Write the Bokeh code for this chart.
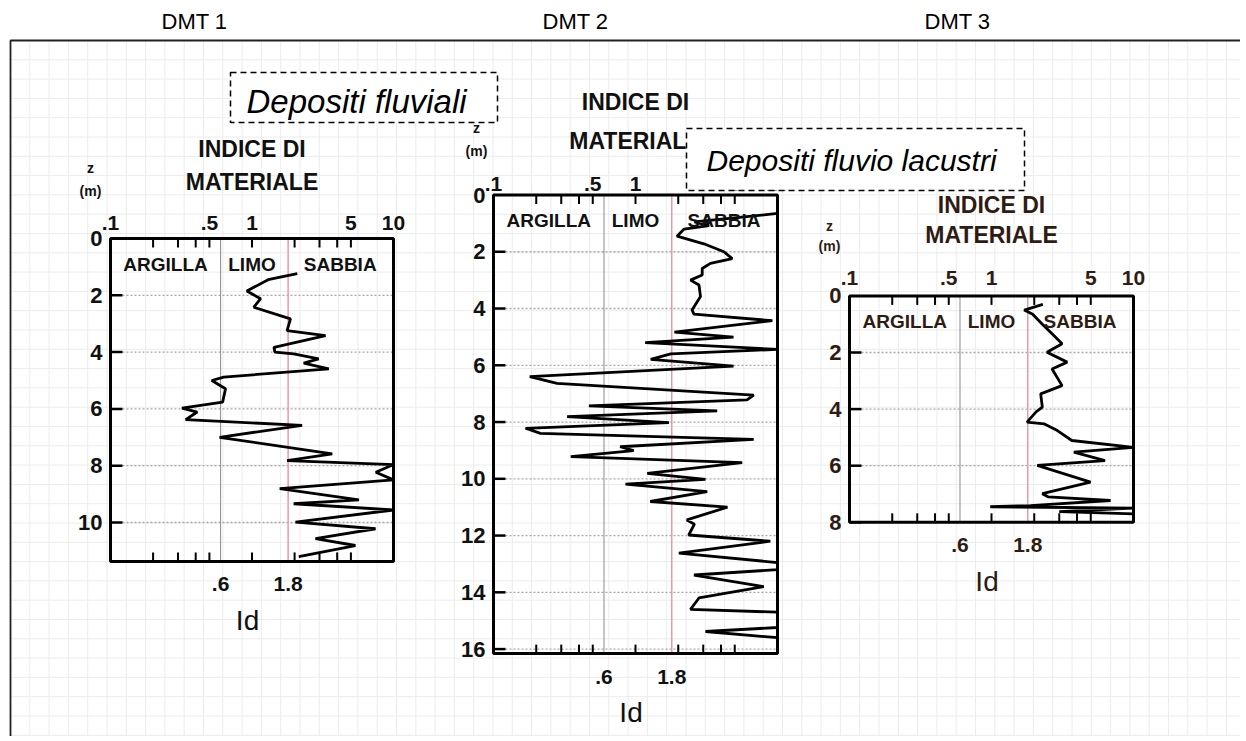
import numpy as np
from bokeh.plotting import figure
from bokeh.models import Range1d, LogScale
from bokeh.core.properties import value
from bokeh.embed import file_html
from bokeh.resources import INLINE

# ---------------- data ----------------
panel_titles = ["DMT 1", "DMT 2", "DMT 3"]
deposit_labels = ["Depositi fluviali", "Depositi fluvio lacustri"]
axis_title = ["INDICE DI", "MATERIALE"]
depth_label = ["z", "(m)"]
id_label = "Id"

dmt1_z = [1.24, 1.45, 1.85, 2.12, 2.42, 2.83, 3.24, 3.42, 3.83, 4.00, 4.06, 4.24, 4.39, 4.59,
          4.88, 5.00, 5.29, 5.76, 5.97, 6.11, 6.38, 6.58, 7.00, 7.58, 7.82, 7.96, 8.23, 8.50,
          8.81, 9.20, 9.34, 9.56, 9.99, 10.22, 10.57, 10.81, 11.20]
dmt1_id = [2.09, 1.30, 0.92, 1.15, 1.03, 1.87, 1.77, 3.31, 1.43, 1.45, 1.97, 2.96, 2.32, 3.49,
           0.63, 0.52, 0.65, 0.62, 0.32, 0.41, 0.34, 2.26, 0.59, 3.69, 1.77, 10.0, 7.5, 10.0,
           1.57, 5.7, 1.97, 10.0, 2.03, 7.47, 2.81, 5.38, 2.14]

dmt2_z = [0.65, 0.95, 1.08, 1.20, 1.45, 1.72, 2.00, 2.24, 2.41, 2.59, 2.82, 3.00, 3.17, 3.58,
          4.05, 4.20, 4.43, 4.83, 5.01, 5.20, 5.44, 5.60, 5.79, 6.03, 6.40, 6.64, 7.05, 7.22,
          7.43, 7.61, 7.81, 8.02, 8.22, 8.40, 8.61, 8.87, 9.01, 9.22, 9.43, 9.81, 10.02, 10.19,
          10.45, 10.80, 11.00, 11.45, 11.60, 11.98, 12.20, 12.62, 12.95, 13.20, 13.39, 13.80,
          14.20, 14.60, 14.70, 15.24, 15.38, 15.60]
dmt2_id = [10.0, 2.6, 3.3, 2.2, 1.96, 3.03, 4.19, 4.80, 3.37, 2.95, 2.95, 2.44, 2.80, 2.87,
           2.50, 2.58, 9.2, 1.88, 4.9, 1.17, 10.0, 1.77, 1.28, 4.9, 0.18, 0.28, 6.8, 6.1,
           0.47, 3.76, 0.33, 1.72, 0.168, 0.214, 6.8, 0.78, 0.97, 0.35, 5.64, 1.21, 3.11, 0.85,
           3.2, 1.27, 4.44, 2.3, 2.6, 2.37, 8.9, 2.02, 10.0, 10.0, 2.58, 8.0,
           2.8, 2.44, 10.0, 10.0, 3.11, 10.0]

dmt3_z = [0.30, 0.50, 0.65, 1.00, 1.34, 1.69, 1.99, 2.34, 2.58, 3.17, 3.46, 3.93, 4.10, 4.46,
          4.52, 4.76, 5.11, 5.35, 5.52, 5.82, 5.99, 6.58, 6.99, 7.10, 7.23, 7.41, 7.45, 7.50,
          7.62, 7.70]
dmt3_id = [2.3, 1.7, 1.95, 2.28, 2.67, 3.14, 2.46, 3.41, 2.67, 3.14, 2.22, 2.28, 2.06, 1.78,
           2.34, 2.91, 3.68, 10.0, 3.8, 6.3, 2.1, 4.98, 2.28, 2.5, 6.9, 1.88, 0.98, 10.0,
           3.0, 10.0]

id_tick_values = [0.1, 0.5, 1, 5, 10]
id_tick_labels = [".1", ".5", "1", "5", "10"]
id_minor_ticks = [0.2, 0.3, 0.4, 0.5, 1, 2, 3, 4, 5]
id_bounds = [0.6, 1.8]
id_bound_labels = [".6", "1.8"]
soil_classes = ["ARGILLA", "LIMO", "SABBIA"]
soil_class_id = [0.245, 1.0, 4.2]
depth_ticks = [[0, 2, 4, 6, 8, 10],
               [0, 2, 4, 6, 8, 10, 12, 14, 16],
               [0, 2, 4, 6, 8]]
depth_max = [11.37, 16.16, 8.0]
series_z = [dmt1_z, dmt2_z, dmt3_z]
series_id = [dmt1_id, dmt2_id, dmt3_id]

# ---------------- layout (pixels of the page) ----------------
X0, Y0, W, H = 0, 0, 1240, 736
panels = [
    dict(L=110, R=393, top=238, ppm=28.4, title_y=(148, 181), zx=90, zy=(167, 190),
         toplab=16, color="#111111"),
    dict(L=493, R=777, top=194.5, ppm=28.38, title_y=(101, 140), zx=476, zy=(127, 150),
         toplab=11, color="#111111"),
    dict(L=849, R=1133, top=295.4, ppm=28.3, title_y=(204, 234), zx=829, zy=(225, 245),
         toplab=18, color="#2e1c12"),
]
FONT = value("Liberation Sans")

p = figure(width=W, height=H, x_range=Range1d(X0, X0 + W), y_range=Range1d(Y0 + H, Y0),
           x_axis_type=None, y_axis_type=None, output_backend="svg",
           toolbar_location=None, min_border=0, outline_line_color=None)
p.background_fill_color = "white"

# page grid paper
step = 19.3
gx = np.arange(10 + step, X0 + W, step)
gy = np.arange(40 + step, Y0 + H, step)
p.segment(x0=gx, y0=[40] * len(gx), x1=gx, y1=[Y0 + H] * len(gx), line_color="#ececec", line_width=1)
p.segment(x0=[10] * len(gy), y0=gy, x1=[X0 + W] * len(gy), y1=gy, line_color="#ececec", line_width=1)
# outer frame
p.line([10, 10, X0 + W], [Y0 + H, 40, 40], line_color="#222222", line_width=1.8)

xr, xs, yr = {}, {}, {}
for k, g in enumerate(panels):
    dec = (g["R"] - g["L"]) / 2.0
    xr[f"x{k}"] = Range1d(10 ** (-1 - (g["L"] - X0) / dec), 10 ** (1 + (X0 + W - g["R"]) / dec))
    xs[f"x{k}"] = LogScale()
    yr[f"y{k}"] = Range1d((Y0 + H - g["top"]) / g["ppm"], (Y0 - g["top"]) / g["ppm"])
p.extra_x_ranges = xr
p.extra_x_scales = xs
p.extra_y_ranges = yr

for k, g in enumerate(panels):
    xn, yn = f"x{k}", f"y{k}"
    dec = (g["R"] - g["L"]) / 2.0
    zmax = depth_max[k]
    col = g["color"]
    ticks = depth_ticks[k]
    inner = [t for t in ticks if 0 < t]
    bottom_px = g["top"] + zmax * g["ppm"]
    # dotted depth grid
    p.segment(x0=[0.1] * len(inner), y0=inner, x1=[10] * len(inner), y1=inner,
              x_range_name=xn, y_range_name=yn, line_color="#a8a8a8", line_width=1.3,
              line_dash="2 2")
    # boundary lines
    p.segment(x0=[id_bounds[0]], y0=[0], x1=[id_bounds[0]], y1=[zmax], x_range_name=xn,
              y_range_name=yn, line_color="#8a8a8a", line_width=1)
    p.segment(x0=[id_bounds[1]], y0=[0], x1=[id_bounds[1]], y1=[zmax], x_range_name=xn,
              y_range_name=yn, line_color="#e79aa8", line_width=1.5)
    # data curve
    p.line(x=series_id[k], y=series_z[k], x_range_name=xn, y_range_name=yn,
           line_color="black", line_width=2.8)
    # frame box
    p.quad(left=[0.1], right=[10], top=[0], bottom=[zmax], x_range_name=xn, y_range_name=yn,
           fill_alpha=0, line_color="black", line_width=3)
    # minor ticks top / bottom
    tl = 9.0 / g["ppm"]
    n = len(id_minor_ticks)
    p.segment(x0=id_minor_ticks, y0=[0] * n, x1=id_minor_ticks, y1=[tl] * n,
              x_range_name=xn, y_range_name=yn, line_color="black", line_width=2)
    p.segment(x0=id_minor_ticks, y0=[zmax] * n, x1=id_minor_ticks, y1=[zmax - tl] * n,
              x_range_name=xn, y_range_name=yn, line_color="black", line_width=2)
    # depth ticks on left
    p.segment(x0=[0.1] * len(inner), y0=inner, x1=[0.1 * 10 ** (12 / dec)] * len(inner), y1=inner,
              x_range_name=xn, y_range_name=yn, line_color="black", line_width=2.5)
    # depth labels
    p.text(x=[g["L"] - 8] * len(ticks), y=ticks, text=[str(t) for t in ticks], y_range_name=yn,
           text_align="right", text_baseline="middle", text_font=FONT, text_font_style="bold",
           text_font_size="22px", text_color=col)
    # top id labels
    p.text(x=id_tick_values, y=[g["top"] - g["toplab"]] * len(id_tick_values), text=id_tick_labels,
           x_range_name=xn, text_align="center", text_baseline="middle", text_font=FONT,
           text_font_style="bold", text_font_size="21px", text_color=col)
    # soil classes
    p.text(x=soil_class_id, y=[0.9] * 3, text=soil_classes, x_range_name=xn, y_range_name=yn,
           text_align="center", text_baseline="middle", text_font=FONT, text_font_style="bold",
           text_font_size="19px", text_color=col)
    # bound labels below
    p.text(x=id_bounds, y=[bottom_px + 23] * 2, text=id_bound_labels,
           x_range_name=xn, text_align="center", text_baseline="middle", text_font=FONT,
           text_font_style="bold", text_font_size="21px", text_color=col)
    # Id label
    p.text(x=[0.93], y=[bottom_px + 59], text=[id_label], x_range_name=xn,
           text_align="center", text_baseline="middle", text_font=FONT,
           text_font_size="28px", text_color=col)
    # axis title
    p.text(x=[1.0, 1.0], y=list(g["title_y"]), text=axis_title, x_range_name=xn,
           text_align="center", text_baseline="middle", text_font=FONT, text_font_style="bold",
           text_font_size="23px", text_color=col)
    # z (m)
    p.text(x=[g["zx"], g["zx"]], y=list(g["zy"]), text=depth_label, text_align="center",
           text_baseline="middle", text_font=FONT, text_font_style="bold",
           text_font_size="14px", text_color=col)

# deposit boxes
p.quad(left=[230], right=[497], top=[72], bottom=[122], fill_color="white",
       line_color="black", line_width=1.5, line_dash="6 4")
p.quad(left=[686], right=[1024], top=[128], bottom=[190], fill_color="white",
       line_color="black", line_width=1.5, line_dash="6 4")
p.text(x=[246], y=[101], text=[deposit_labels[0]], text_align="left",
       text_baseline="middle", text_font=FONT, text_font_style="italic",
       text_font_size="33px", text_color="black")
p.text(x=[706], y=[160], text=[deposit_labels[1]], text_align="left",
       text_baseline="middle", text_font=FONT, text_font_style="italic",
       text_font_size="30px", text_color="black")

# panel titles
p.text(x=[194, 575, 957], y=[21, 21, 21], text=panel_titles, text_align="center",
       text_baseline="middle", text_font=FONT, text_font_size="22px", text_color="black")

open("out.html", "w").write(file_html(p, INLINE))
